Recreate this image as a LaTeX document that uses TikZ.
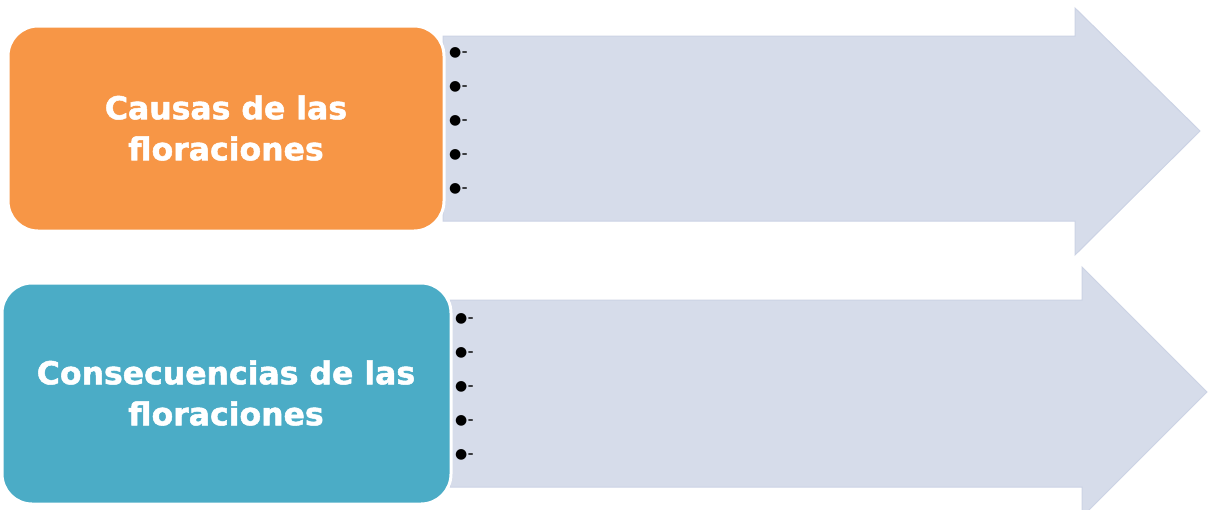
\documentclass[tikz,border=0pt]{standalone}
\usepackage{fontspec}
\setmainfont{Liberation Serif}
\newfontfamily\headfont{DejaVu Sans}[FakeBold=1.6]
\newfontfamily\symfont{DejaVu Sans}
\definecolor{arrowfill}{HTML}{D6DCEA}
\definecolor{arrowedge}{HTML}{CCD3E5}
\definecolor{causecol}{HTML}{F79646}
\definecolor{effectcol}{HTML}{4BACC6}
\newcommand{\bulletdash}{{\symfont\fontsize{14}{14}\selectfont ●}\kern0.5pt{\bfseries\fontsize{17}{17}\selectfont -}}
\tikzset{
  bigarrow/.style={fill=arrowfill, draw=arrowedge, line width=1pt, line join=miter},
  headbox/.style={rounded corners=30pt, draw=white, line width=3pt},
  headtext/.style={text=white, font=\headfont\bfseries\fontsize{31.5}{41}\selectfont, align=center},
  bullet/.style={anchor=west, inner sep=0pt},
}
\begin{document}
\begin{tikzpicture}[x=1pt, y=-1pt]
\useasboundingbox (0,0) rectangle (1210,509);
\fill[white] (0,0) rectangle (1210,509);

% upper block arrow
\draw[bigarrow] (443,36) -- (1075,36) -- (1075,8) -- (1200,131)
  -- (1075,255) -- (1075,221) -- (443,221) -- cycle;
% lower block arrow (its head runs past the bottom edge)
\begin{scope}
\clip (0,0) rectangle (1210,509);
\draw[bigarrow] (450,300) -- (1082,300) -- (1082,267) -- (1207,392)
  -- (1082,517) -- (1082,487) -- (450,487) -- cycle;
\end{scope}

% title boxes
\filldraw[headbox, fill=causecol] (8,26) rectangle (444,231);
\filldraw[headbox, fill=effectcol] (2,283) rectangle (451,504);
\node[headtext] (causas) at (226,128) {Causas de las\\floraciones};
\node[headtext] (consec) at (226,393) {Consecuencias de las\\floraciones};

% bullet lines
\foreach \i in {0,...,4} {
  \node[bullet] (ca\i) at (449,53+34*\i) {\bulletdash};
  \node[bullet] (co\i) at (455,319+34*\i) {\bulletdash};
}
\end{tikzpicture}
\end{document}
